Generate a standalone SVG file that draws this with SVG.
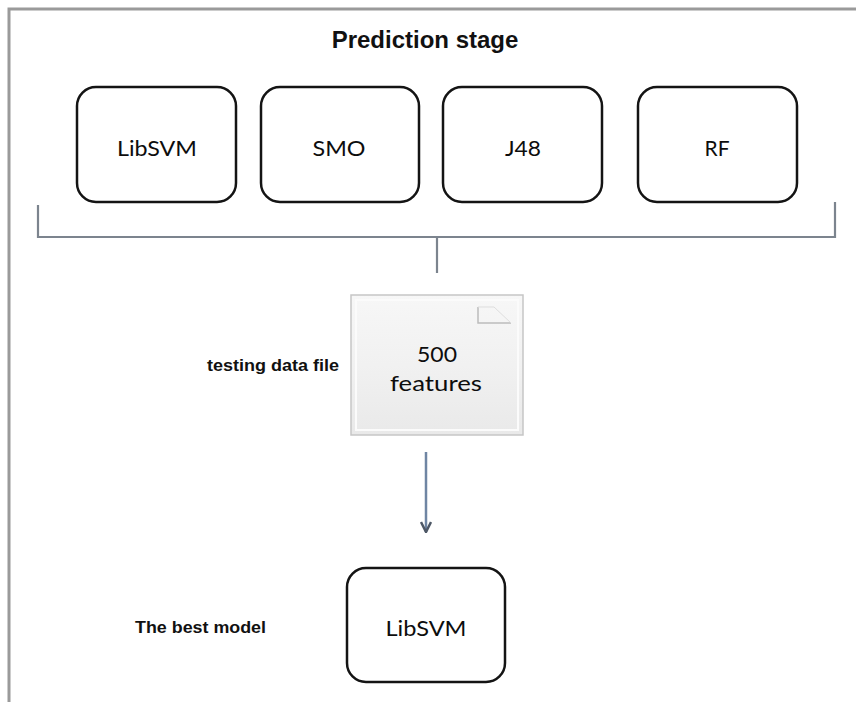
<svg xmlns="http://www.w3.org/2000/svg" width="856" height="702" viewBox="0 0 856 702">
<style>
.box{fill:#fff;stroke:#141414;stroke-width:2.5}
.bt{font-family:Lato,"Open Sans",sans-serif;font-size:22px;fill:#0d0d0d;text-anchor:middle}
.lbl{font-family:"Liberation Sans",Arial,sans-serif;font-weight:bold;fill:#111}
.br{fill:none;stroke:#7c848e;stroke-width:2.2}
</style>
<defs>
<linearGradient id="fg" x1="0" y1="0" x2="0" y2="1">
<stop offset="0" stop-color="#f7f7f7"/>
<stop offset="0.5" stop-color="#f1f1f1"/>
<stop offset="1" stop-color="#e9e9e9"/>
</linearGradient>
<marker id="ah" viewBox="0 0 10 10" refX="9" refY="5" markerWidth="5" markerHeight="5" orient="auto">
<path d="M1,1 L9,5 L1,9" fill="none" stroke="#4e5866" stroke-width="2"/>
</marker>
</defs>
<rect width="856" height="702" fill="#fff"/>
<path d="M9,702 V9 H856" fill="none" stroke="#9a9a9a" stroke-width="3"/>
<text class="lbl" x="425" y="48" font-size="24" text-anchor="middle">Prediction stage</text>
<g id="libsvm">
<rect class="box" x="77" y="87" width="159" height="115" rx="19"/>
<text class="bt" x="157" y="156" textLength="80" lengthAdjust="spacingAndGlyphs">LibSVM</text>
</g>
<g id="smo">
<rect class="box" x="261" y="87" width="158" height="115" rx="19"/>
<text class="bt" x="339" y="156" textLength="53" lengthAdjust="spacingAndGlyphs">SMO</text>
</g>
<g id="j48">
<rect class="box" x="443" y="87" width="159" height="115" rx="19"/>
<text class="bt" x="523" y="156" textLength="36" lengthAdjust="spacingAndGlyphs">J48</text>
</g>
<g id="rf">
<rect class="box" x="638" y="87" width="159" height="115" rx="19"/>
<text class="bt" x="717" y="156" textLength="25" lengthAdjust="spacingAndGlyphs">RF</text>
</g>
<g id="testing-file">
<rect x="351" y="295" width="172" height="140" fill="url(#fg)" stroke="#c6c6c6" stroke-width="1.5"/>
<rect x="356" y="300" width="162" height="130" fill="none" stroke="#fbfbfb" stroke-width="2"/>
<path d="M478,307 V323 H511" fill="none" stroke="#bcbcbc" stroke-width="1.5"/>
<path d="M478,307 H494 L511,323" fill="none" stroke="#dddddd" stroke-width="1"/>
<text class="bt" x="437" y="362" font-size="26" textLength="40" lengthAdjust="spacingAndGlyphs">500</text>
<text class="bt" x="436" y="391" font-size="26" textLength="92" lengthAdjust="spacingAndGlyphs">features</text>
<text class="lbl" x="207" y="371" font-size="17" textLength="132" lengthAdjust="spacingAndGlyphs">testing data file</text>
</g>
<g id="best-model">
<rect class="box" x="347" y="568" width="158" height="114" rx="19"/>
<text class="bt" x="426" y="636" textLength="81" lengthAdjust="spacingAndGlyphs">LibSVM</text>
<text class="lbl" x="135" y="633" font-size="17" textLength="131" lengthAdjust="spacingAndGlyphs">The best model</text>
</g>
<g id="connectors">
<path class="br" d="M38,205 V237 H835 V202"/>
<path class="br" d="M437,237 V273"/>
<path d="M426,452 V532" fill="none" stroke="#6f85a3" stroke-width="2.5" marker-end="url(#ah)"/>
</g>
</svg>
